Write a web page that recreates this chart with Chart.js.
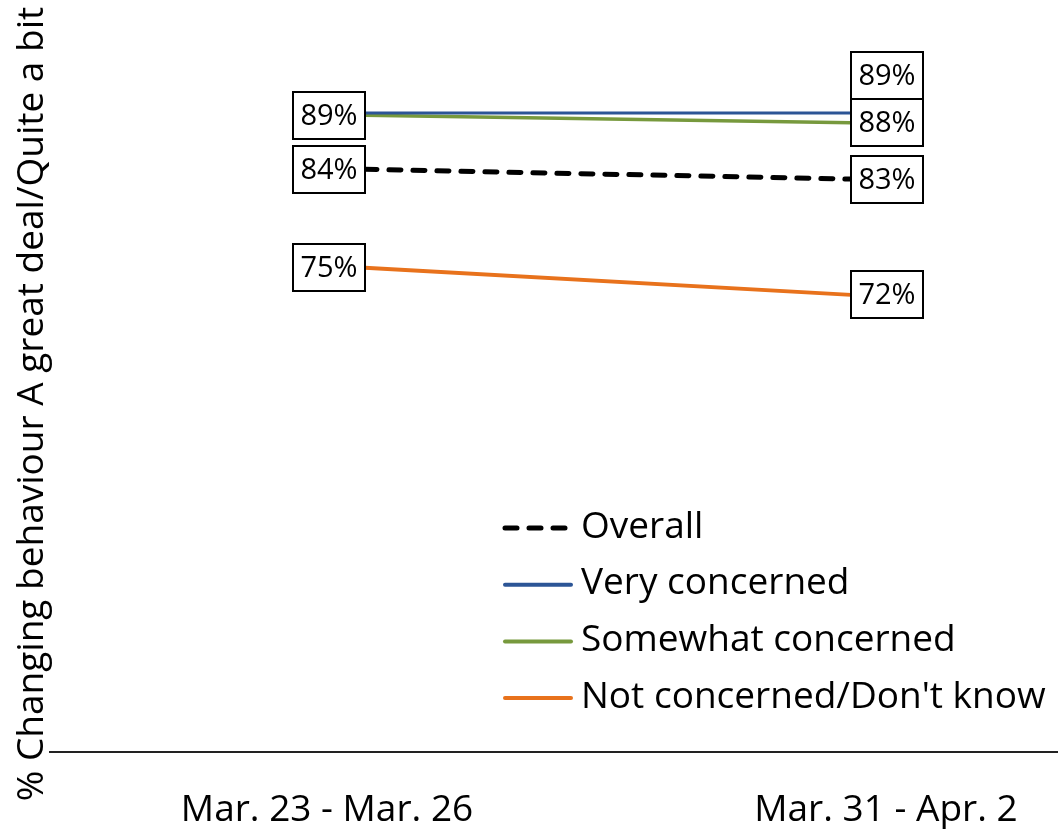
<!DOCTYPE html>
<html>
<head>
<meta charset="utf-8">
<script src="https://cdn.jsdelivr.net/npm/chart.js@4.4.1/dist/chart.umd.min.js"></script>
<style>
  html, body { margin: 0; padding: 0; background: #fff; overflow: hidden; }
  #wrap { position: relative; width: 1058px; height: 876px; margin-top: -6px; }
</style>
</head>
<body>
<div id="wrap"><canvas id="chart" width="1058" height="876"></canvas></div>
<script>
// values (labels in the original are rounded)
const periods = ["Mar. 23 - Mar. 26", "Mar. 31 - Apr. 2"];
const overall = [83.8, 82.9];
const veryConcerned = [89.0, 89.0];
const somewhatConcerned = [88.8, 88.1];
const notConcerned = [74.7, 72.2];
const seriesNames = ["Overall", "Very concerned", "Somewhat concerned", "Not concerned/Don't know"];
const yTitle = "% Changing behaviour A great deal/Quite a bit";

const FONT = "'Open Sans', 'Noto Sans', sans-serif";
const periodLabelAt = [-0.078, 1.072]; // where the period names sit on the x scale

const toPoints = (arr) => arr.map((v, i) => ({ x: i, y: v }));

const yTitlePlugin = {
  id: "yTitle",
  afterDraw(chart) {
    const ctx = chart.ctx;
    ctx.save();
    ctx.translate(43, 410);
    ctx.rotate(-Math.PI / 2);
    ctx.font = "37px " + FONT;
    ctx.fillStyle = "#000";
    ctx.textAlign = "center";
    ctx.textBaseline = "alphabetic";
    ctx.fillText(yTitle, 0, 0);
    ctx.restore();
  },
};

// boxed value labels: left of the first point, right of the last one
const valueBoxes = {
  id: "valueBoxes",
  afterDatasetsDraw(chart) {
    const ctx = chart.ctx;
    const w = 72, h = 47;
    ctx.save();
    ctx.font = "29px " + FONT;
    ctx.textAlign = "center";
    ctx.textBaseline = "middle";
    ctx.lineWidth = 2;
    periods.forEach((p, i) => {
      const items = chart.data.datasets
        .map((ds, d) => {
          const pt = chart.getDatasetMeta(d).data[i];
          return { x: pt.x, y: pt.y, text: Math.round(ds.data[i].y) + "%" };
        })
        .sort((a, b) => b.y - a.y);
      const placed = [];
      items.forEach((it) => {
        let top = Math.round(it.y - h / 2);
        // identical labels sitting on top of each other show as one box
        if (placed.some((b) => b.text === it.text && Math.abs(b.top - top) < h)) return;
        placed.forEach((b) => {
          if (top < b.top + h && top + h > b.top) top = b.top - h;
        });
        placed.push({ top, text: it.text });
        const left = Math.round(i === 0 ? it.x - w : it.x);
        ctx.fillStyle = "#fff";
        ctx.fillRect(left, top, w, h);
        ctx.strokeStyle = "#000";
        ctx.strokeRect(left, top, w, h);
        ctx.fillStyle = "#000";
        ctx.fillText(it.text, left + w / 2, top + h / 2 + 1);
      });
    });
    ctx.restore();
  },
};

const legendPlugin = {
  id: "sideLegend",
  afterDraw(chart) {
    const ctx = chart.ctx;
    const x0 = 503, len = 68, tx = 581, y0 = 534, step = 56.7;
    ctx.save();
    ctx.font = "37px " + FONT;
    ctx.textBaseline = "middle";
    ctx.textAlign = "left";
    chart.data.datasets.forEach((ds, i) => {
      const y = y0 + i * step;
      ctx.beginPath();
      ctx.strokeStyle = ds.borderColor;
      ctx.lineWidth = ds.borderDash ? ds.borderWidth : 4;
      ctx.setLineDash(ds.borderDash || []);
      ctx.lineCap = "round";
      ctx.moveTo(x0 + 2, y);
      ctx.lineTo(x0 + len, y);
      ctx.stroke();
      ctx.setLineDash([]);
      ctx.fillStyle = "#000";
      ctx.fillText(ds.label, tx, y - 1);
    });
    ctx.restore();
  },
};

new Chart(document.getElementById("chart"), {
  type: "line",
  data: {
    datasets: [
      { label: seriesNames[0], data: toPoints(overall), borderColor: "#000000", borderWidth: 5, borderDash: [12, 12], borderCapStyle: "round" },
      { label: seriesNames[1], data: toPoints(veryConcerned), borderColor: "#2C5596", borderWidth: 3 },
      { label: seriesNames[2], data: toPoints(somewhatConcerned), borderColor: "#77993D", borderWidth: 3.5 },
      { label: seriesNames[3], data: toPoints(notConcerned), borderColor: "#E8721C", borderWidth: 4 },
    ],
  },
  options: {
    responsive: false,
    animation: false,
    layout: { padding: { left: 50, right: 0, top: 0, bottom: 0 } },
    elements: { point: { radius: 0, hoverRadius: 0 }, line: { tension: 0 } },
    plugins: { legend: { display: false }, tooltip: { enabled: false } },
    scales: {
      x: {
        type: "linear",
        min: -0.648,
        max: 1.426,
        grid: { display: false, drawTicks: false },
        border: { display: true, color: "#222", width: 2 },
        afterBuildTicks: (axis) => {
          axis.ticks = periodLabelAt.map((v) => ({ value: v }));
        },
        ticks: {
          autoSkip: false,
          maxRotation: 0,
          padding: 37,
          color: "#000",
          font: { family: FONT, size: 37 },
          callback: (v, i) => periods[i],
        },
      },
      y: { display: false, min: 30, max: 100 },
    },
  },
  plugins: [valueBoxes, legendPlugin, yTitlePlugin],
});
</script>
</body>
</html>
